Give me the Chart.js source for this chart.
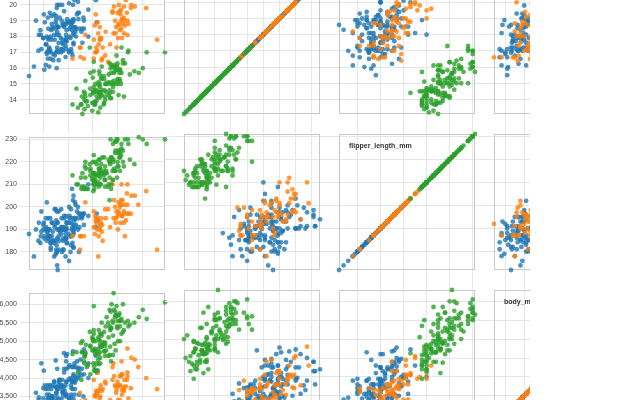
<!DOCTYPE html>
<html>
<head>
<meta charset="utf-8">
<script src="https://cdn.jsdelivr.net/npm/chart.js@4"></script>
<style>
html,body{margin:0;padding:0;background:#fff;overflow:hidden;width:640px;height:400px}
#wrap{position:absolute;left:0;top:0;width:530px;height:400px;overflow:hidden}
#wrap canvas{position:absolute}
</style>
</head>
<body>
<div id="wrap"></div>
<script>
const variableNames = ['bill_length_mm','bill_depth_mm','flipper_length_mm','body_mass_g'];
const speciesNames = ['Adelie','Chinstrap','Gentoo'];
const tickSteps = [5, 1, 10, 500];

const adelieBillLength = [39.1,39.5,40.3,36.7,39.3,38.9,39.2,34.1,42.0,37.8,37.8,41.1,38.6,34.6,36.6,38.7,42.5,34.4,46.0,
37.8,37.7,35.9,38.2,38.8,35.3,40.6,40.5,37.9,40.5,
39.5,37.2,39.5,40.9,36.4,39.2,38.8,42.2,37.6,39.8,36.5,40.8,36.0,44.1,37.0,39.6,41.1,37.5,36.0,42.3,
39.6,40.1,35.0,42.0,34.5,41.4,39.0,40.6,36.5,37.6,35.7,41.3,37.6,41.1,36.4,41.6,35.5,41.1,
35.9,41.8,33.5,39.7,39.6,45.8,35.5,42.8,40.9,37.2,36.2,42.1,34.6,42.9,36.7,35.1,
37.3,41.3,36.3,36.9,38.3,38.9,35.7,41.1,34.0,39.6,36.2,40.8,38.1,40.3,33.1,43.2,
35.0,41.0,37.7,37.8,37.9,39.7,38.6,38.2,38.1,43.2,38.1,45.6,39.7,42.2,39.6,42.7,
38.6,37.3,35.7,41.1,36.2,37.7,40.2,41.4,35.2,40.6,38.8,41.5,39.0,44.1,38.5,43.1,
36.8,37.5,38.1,41.1,35.6,40.2,37.0,39.7,40.2,40.6,32.1,40.7,37.3,39.0,39.2,36.6,36.0,37.8,36.0,41.5];
const adelieBillDepth = [18.7,17.4,18.0,19.3,20.6,17.8,19.6,18.1,20.2,17.1,17.3,17.6,21.2,21.1,17.8,19.0,20.7,18.4,21.5,
18.3,18.7,19.2,18.1,17.2,18.9,18.6,17.9,18.6,18.9,
16.7,18.1,17.8,18.9,17.0,21.1,20.0,18.5,19.3,19.1,18.0,18.4,18.5,19.7,16.9,18.8,19.0,18.9,17.9,21.2,
17.7,18.9,17.9,19.5,18.1,18.6,17.5,18.8,16.6,19.1,16.9,21.1,17.0,18.2,17.1,18.0,16.2,19.1,
16.6,19.4,19.0,18.4,17.2,18.9,17.5,18.5,16.8,19.4,16.1,19.1,17.2,17.6,18.8,19.4,
17.8,20.3,19.5,18.6,19.2,18.8,18.0,18.1,17.1,18.1,17.3,18.9,18.6,18.5,16.1,18.5,
17.9,20.0,16.0,20.0,18.6,18.9,17.2,20.0,17.0,19.0,16.5,20.3,17.7,19.5,20.7,18.3,
17.0,20.5,17.0,18.6,17.2,19.8,17.0,18.5,15.9,19.0,17.6,18.3,17.1,18.0,17.9,19.2,
18.5,18.5,17.6,17.5,17.5,20.1,16.5,17.9,17.1,17.2,15.5,17.0,16.8,18.7,18.6,18.4,17.8,18.1,17.1,18.5];
const adelieFlipperLength = [181,186,195,193,190,181,195,193,190,186,180,182,191,198,185,195,197,184,194,
174,180,189,185,180,187,183,187,172,180,
178,178,188,184,195,196,190,180,181,184,182,195,186,196,185,190,182,179,190,191,
186,188,190,200,187,191,186,193,181,194,185,195,185,192,184,192,195,188,
190,198,190,190,196,197,190,195,191,184,187,195,189,196,187,193,
191,194,190,189,189,190,202,205,185,186,187,208,190,196,178,192,
192,203,183,190,193,184,199,190,181,197,198,191,193,197,191,196,
188,199,189,189,187,198,176,202,186,199,191,195,191,210,190,197,
193,199,187,190,191,200,185,193,193,187,188,190,192,185,190,184,195,193,187,201];
const adelieBodyMass = [3750,3800,3250,3450,3650,3625,4675,3475,4250,3300,3700,3200,3800,4400,3700,3450,4500,3325,4200,
3400,3600,3800,3950,3800,3800,3550,3200,3150,3950,
3250,3900,3300,3900,3325,4150,3950,3550,3300,4650,3150,3900,3100,4400,3000,4600,3425,2975,3450,4150,
3500,4300,3450,4050,2900,3700,3550,3800,2850,3750,3150,4400,3600,4050,2850,3950,3350,4100,
3050,4450,3600,3900,3550,4150,3700,4250,3700,3900,3550,4000,3200,4700,3800,4200,
3350,3550,3800,3500,3950,3600,3550,4300,3400,4450,3300,4300,3700,4350,2900,4100,
3725,4725,3075,4250,2925,3550,3750,3900,3175,4775,3825,4600,3200,4275,3900,4075,
2900,3775,3350,3325,3150,3500,3450,3875,3050,4000,3275,4300,3050,4000,3325,3500,
3500,4475,3425,3900,3175,3975,3400,4250,3400,3475,3050,3725,3000,3650,4250,3475,3450,3750,3700,4000];

const chinstrapBillLength = [46.5,50.0,51.3,45.4,52.7,45.2,46.1,51.3,46.0,51.3,46.6,51.7,47.0,52.0,45.9,50.5,50.3,58.0,46.4,49.2,42.4,48.5,43.2,50.6,46.7,52.0,
50.5,49.5,46.4,52.8,40.9,54.2,42.5,51.0,49.7,47.5,47.6,52.0,46.9,53.5,49.0,46.2,50.9,45.5,50.9,50.8,
50.1,49.0,51.5,49.8,48.1,51.4,45.7,50.7,42.5,52.2,45.2,49.3,50.2,45.6,51.9,46.8,45.7,55.8,43.5,49.6,50.8,50.2];
const chinstrapBillDepth = [17.9,19.5,19.2,18.7,19.8,17.8,18.2,18.2,18.9,19.9,17.8,20.3,17.3,18.1,17.1,19.6,20.0,17.8,18.6,18.2,17.3,17.5,16.6,19.4,17.9,19.0,
18.4,19.0,17.8,20.0,16.6,20.8,16.7,18.8,18.6,16.8,18.3,20.7,16.6,19.9,19.5,17.5,19.1,17.0,17.9,18.5,
17.9,19.6,18.7,17.3,16.4,19.0,17.3,19.7,17.3,18.8,16.6,19.9,18.8,19.4,19.5,16.5,17.0,19.8,18.1,18.2,19.0,18.7];
const chinstrapFlipperLength = [192,196,193,188,197,198,178,197,195,198,193,194,185,201,190,201,197,181,190,195,181,191,187,193,195,197,
200,200,191,205,187,201,187,203,195,199,195,210,192,205,210,187,196,196,196,201,
190,212,187,198,199,201,193,203,187,197,191,203,202,194,206,189,195,207,202,193,210,198];
const chinstrapBodyMass = [3500,3900,3650,3525,3725,3950,3250,3750,4150,3700,3800,3775,3700,4050,3575,4050,3300,3700,3450,4400,3600,3400,2900,3800,3300,4150,
3400,3800,3700,4550,3200,4300,3350,4100,3600,3900,3850,4800,2700,4500,3950,3650,3550,3500,3675,4450,
3400,4300,3250,3675,3325,3950,3600,4050,3350,3450,3250,4050,3800,3525,3950,3650,3650,4000,3400,3775,4100,3775];

const gentooBillLength = [46.1,50.0,48.7,50.0,47.6,46.5,45.4,46.7,43.3,46.8,40.9,49.0,45.5,48.4,45.8,49.3,42.0,49.2,46.2,48.7,50.2,45.1,46.5,46.3,42.9,46.1,44.5,47.8,48.2,50.0,47.3,42.8,45.1,59.6,
49.1,48.4,42.6,44.4,44.0,48.7,42.7,49.6,45.3,49.6,50.5,43.6,45.5,50.5,44.9,45.2,46.6,48.5,45.1,50.1,46.5,45.0,43.8,45.5,43.2,50.4,45.3,46.2,45.7,54.3,45.8,49.8,46.2,49.5,43.5,50.7,47.7,46.4,48.2,46.5,46.4,48.6,47.5,51.1,45.2,45.2,
49.1,52.5,47.4,50.0,44.9,50.8,43.4,51.3,47.5,52.1,47.5,52.2,45.5,49.5,44.5,50.8,49.4,46.9,48.4,51.1,48.5,55.9,47.2,49.1,47.3,46.8,41.7,53.4,43.3,48.1,50.5,49.8,43.5,51.5,46.2,55.1,44.5,48.8,47.2,46.8,50.4,45.2,49.9];
const gentooBillDepth = [13.2,16.3,14.1,15.2,14.5,13.5,14.6,15.3,13.4,15.4,13.7,16.1,13.7,14.6,14.6,15.7,13.5,15.2,14.5,15.1,14.3,14.5,14.5,15.8,13.1,15.1,14.3,15.0,14.3,15.3,15.3,14.2,14.5,17.0,
14.8,16.3,13.7,17.3,13.6,15.7,13.7,16.0,13.7,15.0,15.9,13.9,13.9,15.9,13.3,15.8,14.2,14.1,14.4,15.0,14.4,15.4,13.9,15.0,14.5,15.3,13.8,14.9,13.9,15.7,14.2,16.8,14.4,16.2,14.2,15.0,15.0,15.6,15.6,14.8,15.0,16.0,14.2,16.3,13.8,16.4,
14.5,15.6,14.6,15.9,13.8,17.3,14.4,14.2,14.0,17.0,15.0,17.1,14.5,16.1,14.7,15.7,15.8,14.6,14.4,16.5,15.0,17.0,15.5,15.0,13.8,16.1,14.7,15.8,14.0,15.1,15.2,15.9,15.2,16.3,14.1,16.0,15.7,16.2,13.7,14.3,15.7,14.8,16.1];
const gentooFlipperLength = [211,230,210,218,215,210,211,219,209,215,214,216,214,213,210,217,210,221,209,222,218,215,213,215,215,215,216,215,210,220,222,209,207,230,
220,220,213,219,208,208,208,225,210,216,222,217,210,225,213,215,210,220,210,225,217,220,208,220,208,224,208,221,214,231,219,230,214,229,220,223,216,221,221,217,216,230,209,220,215,223,
212,221,212,224,212,228,218,218,212,230,218,228,212,224,214,226,216,222,203,225,219,228,215,228,216,215,210,219,208,209,216,229,213,230,217,230,217,222,214,215,222,212,213];
const gentooBodyMass = [4500,5700,4450,5700,5400,4550,4800,5200,4400,5150,4650,5550,4650,5850,4200,5850,4150,6300,4800,5350,5700,5000,4400,5050,5000,5100,4100,5650,4600,5550,5250,4700,5050,6050,
5150,5400,4950,5250,4350,5350,3950,5700,4300,4750,5550,4900,4200,5400,5100,5300,4850,5300,4400,5000,4900,5050,4300,5000,4450,5550,4200,5300,4400,5650,4700,5700,4650,5800,4700,5550,4750,5000,5100,5200,4700,5800,4600,6000,4750,5950,
4625,5450,4725,5350,4750,5600,4600,5300,4875,5550,4950,5400,4750,5650,4850,5200,4925,4875,4625,5250,4850,5600,4975,5500,4725,5500,4700,5500,4575,5500,5000,5950,4650,5500,4375,5850,4875,6000,4925,4850,5750,5200,5400];

// ---- presentation ----
const speciesColors = ['rgba(31,119,180,0.8)', 'rgba(255,127,14,0.8)', 'rgba(44,160,44,0.8)'];
const GRID = '#e6e6e6';
const FRAME = '#c9c9c9';
const PANEL = 136, COL_PITCH = 155, ROW_PITCH = 156, X0 = 29, Y_ROW1 = -22, PAD = 4, XAXIS_H = 19;
const visibleRows = [1, 2, 3];
const visibleCols = [0, 1, 2, 3];

Chart.defaults.font.family = '"Liberation Sans", Arial, Helvetica, sans-serif';

const speciesData = [
  [adelieBillLength, adelieBillDepth, adelieFlipperLength, adelieBodyMass],
  [chinstrapBillLength, chinstrapBillDepth, chinstrapFlipperLength, chinstrapBodyMass],
  [gentooBillLength, gentooBillDepth, gentooFlipperLength, gentooBodyMass]
];
const bounds = variableNames.map((_, v) => {
  const all = speciesData.flatMap(sp => sp[v]);
  return {min: Math.min(...all), max: Math.max(...all)};
});
function tickList(v) {
  const step = tickSteps[v], out = [];
  for (let t = Math.ceil(bounds[v].min / step) * step; t <= bounds[v].max + 1e-9; t += step) {
    out.push({value: Math.round(t * 1000) / 1000});
  }
  return out;
}

const framePlugin = {
  id: 'panelFrame',
  beforeDatasetsDraw(chart) {
    const {ctx, chartArea: a} = chart;
    ctx.save();
    ctx.strokeStyle = FRAME;
    ctx.lineWidth = 1;
    ctx.strokeRect(Math.round(a.left) + 0.5, Math.round(a.top) + 0.5, Math.round(a.width) - 1, Math.round(a.height) - 1);
    ctx.restore();
  },
  afterDatasetsDraw(chart, args, opts) {
    if (!opts.label) return;
    const {ctx, chartArea: a} = chart;
    ctx.save();
    ctx.fillStyle = '#333';
    ctx.font = 'bold 7px "Liberation Sans", Arial, sans-serif';
    ctx.textBaseline = 'alphabetic';
    ctx.fillText(opts.label, a.left + 10, a.top + 14);
    ctx.restore();
  }
};

const wrap = document.getElementById('wrap');
visibleRows.forEach(r => {
  visibleCols.forEach(c => {
    const yAxisW = c === 0 ? 40 : 19;
    const cv = document.createElement('canvas');
    const w = yAxisW + PANEL + PAD, h = PAD + PANEL + XAXIS_H;
    cv.width = w; cv.height = h;
    cv.style.width = w + 'px'; cv.style.height = h + 'px';
    cv.style.left = (X0 + c * COL_PITCH - yAxisW) + 'px';
    cv.style.top = (Y_ROW1 + (r - 1) * ROW_PITCH - PAD) + 'px';
    wrap.appendChild(cv);

    new Chart(cv, {
      type: 'scatter',
      data: {
        datasets: speciesNames.map((name, k) => ({
          label: name,
          data: speciesData[k][c].map((xv, i) => ({x: xv, y: speciesData[k][r][i]})),
          backgroundColor: speciesColors[k],
          borderWidth: 0,
          pointRadius: 2.4,
          pointHoverRadius: 2.4,
          order: speciesNames.length - k,
          clip: false
        }))
      },
      options: {
        responsive: false,
        animation: false,
        devicePixelRatio: 1,
        locale: 'en-US',
        events: [],
        layout: {padding: {top: PAD, right: PAD, left: 0, bottom: 0}},
        plugins: {
          legend: {display: false},
          tooltip: {enabled: false},
          panelFrame: {label: r === c ? variableNames[r] : ''}
        },
        scales: {
          x: {
            type: 'linear', position: 'bottom',
            min: bounds[c].min, max: bounds[c].max,
            border: {display: false},
            grid: {color: GRID, lineWidth: 1, drawTicks: true, tickLength: XAXIS_H, tickColor: GRID},
            ticks: {display: false},
            afterBuildTicks: s => { s.ticks = tickList(c); },
            afterFit: s => { s.height = XAXIS_H; }
          },
          y: {
            type: 'linear', position: 'left',
            min: bounds[r].min, max: bounds[r].max,
            border: {display: false},
            grid: {color: GRID, lineWidth: 1, drawTicks: true, tickLength: c === 0 ? 9 : 19, tickColor: GRID},
            ticks: {display: c === 0, padding: 3, color: '#4a4a4a', font: {size: 7}},
            afterBuildTicks: s => { s.ticks = tickList(r); },
            afterFit: s => { s.width = yAxisW; }
          }
        }
      },
      plugins: [framePlugin]
    });
  });
});
</script>
</body>
</html>
